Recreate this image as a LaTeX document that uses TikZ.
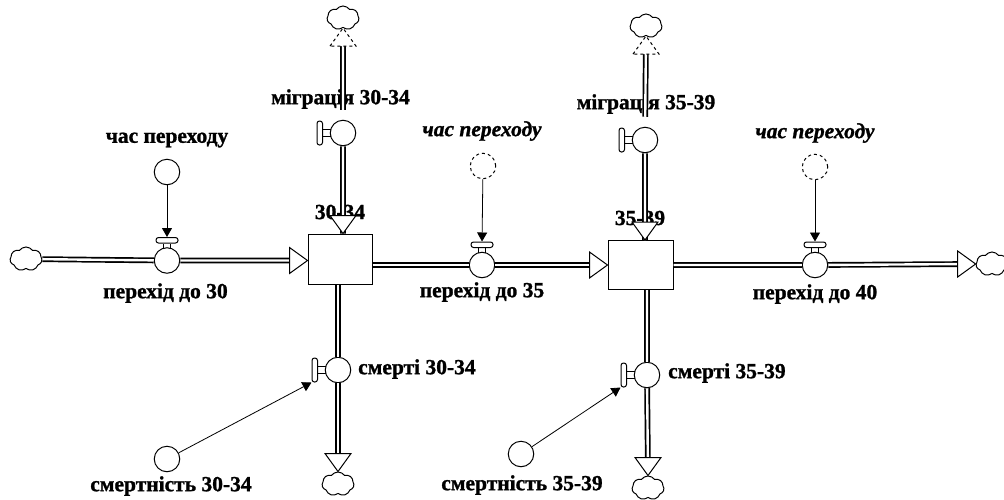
\documentclass[tikz,border=0pt]{standalone}
\usepackage{fontspec}
\setmainfont{Liberation Serif}[BoldFeatures={FakeBold=1.2}, BoldItalicFeatures={FakeBold=1.2}]
\usetikzlibrary{calc,shapes.symbols,arrows.meta}
\begin{document}
\begin{tikzpicture}[x=1pt,y=-1pt,
  stock/.style={draw, line width=1pt, minimum width=64pt, minimum height=50pt, inner sep=0},
  valve/.style={circle, draw, line width=1pt, fill=white, minimum size=25.5pt, inner sep=0},
  aux/.style={circle, draw, line width=1pt, minimum size=25.5pt, inner sep=0},
  ghost/.style={aux, dashed},
  handleH/.style={draw, line width=1pt, rounded corners=2.5pt, minimum width=22pt, minimum height=5.5pt, inner sep=0},
  handleV/.style={draw, line width=1pt, rounded corners=2.5pt, minimum width=5.5pt, minimum height=24pt, inner sep=0},
  pipe/.style={double, double distance=2.4pt, line width=1.7pt},
  info/.style={line width=0.8pt, -{Triangle[length=9pt,width=10pt]}},
  lbl/.style={font=\fontsize{21.5}{24}\selectfont\bfseries, inner sep=0},
  ilbl/.style={font=\fontsize{21.5}{24}\selectfont\bfseries\itshape, inner sep=0},
  cloudy/.style={cloud, draw, line width=1pt, cloud puffs=7, cloud puff arc=110, minimum width=32pt, minimum height=24pt, inner sep=0, aspect=1.4},
  fhead/.pic={\draw[line width=1pt, fill=white, pic actions] (-18,-13) -- (0,0) -- (-18,13) -- cycle;}
]
\useasboundingbox (0,0) rectangle (1004,499);
% stocks
\node[stock] (S1) at (340,259) {};
\node[stock, minimum width=65pt, minimum height=49pt] (S2) at (640.5,265) {};
% clouds
\node[cloudy] (cL) at (26,259) {};
\node[cloudy] (cR) at (992,264) {};
\node[cloudy] (cm1) at (343,18) {};
\node[cloudy] (cm2) at (646,26) {};
\node[cloudy] (cd1) at (338,484) {};
\node[cloudy] (cd2) at (648,488) {};
% valves
\node[valve] (v30) at (167,260.5) {};
\node[valve] (v35) at (482,265) {};
\node[valve] (v40) at (815,265) {};
\node[valve] (m1) at (343,133) {};
\node[valve] (m2) at (645,140) {};
\node[valve] (d1) at (338,370) {};
\node[valve] (d2) at (647,375) {};
% auxiliaries
\node[aux] (a30) at (167,172) {};
\node[ghost] (a35) at (483,166) {};
\node[ghost] (a40) at (815,167) {};
\node[aux] (ad1) at (167,459) {};
\node[aux] (ad2) at (521,454) {};
% handles
\node[handleH] (h30) at ($(v30.north)+(0,-7)$) {};
\node[handleH] (h35) at ($(v35.north)+(0,-7)$) {};
\node[handleH] (h40) at ($(v40.north)+(0,-7)$) {};
\node[handleV] (hm1) at ($(m1.west)+(-10,0)$) {};
\node[handleV] (hm2) at ($(m2.west)+(-10,0)$) {};
\node[handleV] (hd1) at ($(d1.west)+(-10,0)$) {};
\node[handleV] (hd2) at ($(d2.west)+(-10,0)$) {};
\foreach \v/\h in {v30/h30,v35/h35,v40/h40}{
  \draw[line width=1pt] ($(\v.north)+(-3.5,1)$) -- ($(\h.south)+(-3.5,0)$)
                        ($(\v.north)+(3.5,1)$) -- ($(\h.south)+(3.5,0)$);
}
\foreach \v/\h in {m1/hm1,m2/hm2,d1/hd1,d2/hd2}{
  \draw[line width=1pt] ($(\v.west)+(1,-3.5)$) -- ($(\h.east)+(0,-3.5)$)
                        ($(\v.west)+(1,3.5)$) -- ($(\h.east)+(0,3.5)$);
}
% labels
\node[lbl] (la30) at (167,140) {час переходу};
\node[ilbl] (la35) at (482,131) {час переходу};
\node[ilbl] (la40) at (815,133) {час переходу};
\node[lbl] (lv30) at (165.5,293) {перехід до 30};
\node[lbl] (lv35) at (482,292) {перехід до 35};
\node[lbl] (lv40) at (815,294) {перехід до 40};
\node[lbl] (lm1) at (340.5,99) {міграція 30-34};
\node[lbl] (lm2) at (646,104) {міграція 35-39};
\node[lbl] (lS1) at (340,212) {30-34};
\node[lbl] (lS2) at (640,218) {35-39};
\node[lbl, anchor=west] (ld1) at (358,369) {смерті 30-34};
\node[lbl, anchor=west] (ld2) at (668,373) {смерті 35-39};
\node[lbl] (lad1) at (171,486) {смертність 30-34};
\node[lbl] (lad2) at (522,485) {смертність 35-39};
% pipes
\draw[pipe, shorten >=10pt] (cL) -- (v30) -- (S1.west |- v30);
\draw[pipe, shorten >=10pt] (S1.east |- v35) -- (v35) -- (S2.west);
\draw[pipe, shorten >=10pt] (S2.east |- v40) -- (v40) -- (cR.west);
\draw[pipe, shorten <=10pt, shorten >=10pt] (m1 |- S1.north) -- (m1) -- (cm1.south);
\draw[pipe, shorten <=10pt, shorten >=10pt] (m2 |- S2.north) -- (m2) -- (cm2.south);
\draw[pipe, shorten >=10pt] (d1 |- S1.south) -- (d1) -- (cd1.north);
\draw[pipe, shorten >=10pt] (d2 |- S2.south) -- (d2) -- (cd2.north);
% flow heads
\pic at (S1.west |- v30) {fhead};
\pic at (S2.west) {fhead};
\pic at (cR.west) {fhead};
\pic[rotate=-90] at (m1 |- S1.north) {fhead};
\pic[rotate=-90] at (m2 |- S2.north) {fhead};
\pic[rotate=90, dashed] at (cm1.south) {fhead};
\pic[rotate=90, dashed] at (cm2.south) {fhead};
\pic[rotate=-90] at (cd1.north) {fhead};
\pic[rotate=-90] at (cd2.north) {fhead};
% info links
\draw[info] (a30) -- (h30);
\draw[info] (a35) -- (h35);
\draw[info] (a40) -- (h40);
\draw[info] (ad1) -- (hd1.south west);
\draw[info] (ad2) -- (hd2.south west);
\end{tikzpicture}
\end{document}
